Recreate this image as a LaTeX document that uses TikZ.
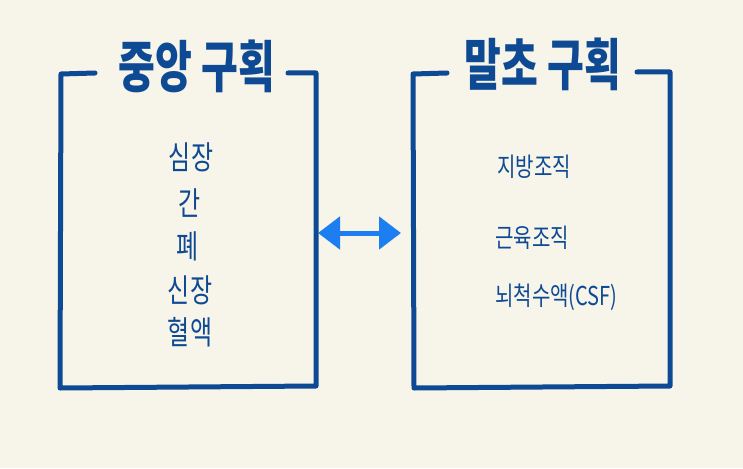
\documentclass[tikz,border=0pt]{standalone}
\usepackage{fontspec}
\setmainfont{Noto Sans CJK KR}
\usepackage{xcolor}
\usetikzlibrary{positioning, arrows.meta}
\definecolor{ink}{RGB}{14,74,148}
\definecolor{paper}{RGB}{247,244,233}
\definecolor{flow}{RGB}{28,126,240}
\newcommand{\tall}[2]{\scalebox{1}[#1]{#2}}

\begin{document}
\begin{tikzpicture}[
    x=1pt, y=-1pt,
    heading/.style={text=ink, inner sep=0pt, font=\fontsize{40}{44}\selectfont\bfseries},
    organ/.style={text=ink, inner sep=0pt, font=\fontsize{24}{28}\selectfont},
    tissue/.style={text=ink, inner sep=0pt, anchor=west, font=\fontsize{20}{24}\selectfont},
    frame/.style={draw=ink, line width=5pt, line cap=round, line join=round},
    exchange/.style={{Triangle[width=32pt,length=22pt]}-{Triangle[width=32pt,length=22pt]}, draw=flow, line width=5pt}
]
\fill[paper] (0,0) rectangle (743,468);
\useasboundingbox (0,0) rectangle (743,468);

\node[heading] (central) at (197,66) {\tall{1.4}{중앙 구획}};
\node[heading] (peripheral) at (543,64) {\tall{1.4}{말초 구획}};

\draw[frame] (95,73) -- (61,74) -- (60,388) -- (316,386) -- (316,73) -- (288,73);
\draw[frame] (447,73) -- (413,74) -- (414,388) -- (670,386) -- (670,72) -- (637,72);

\node[organ] (heart) at (191,157) {\tall{1.35}{심장}};
\node[organ] (liver) at (190,203) {\tall{1.35}{간}};
\node[organ] (lung) at (188,246) {\tall{1.35}{폐}};
\node[organ] (kidney) at (190,290) {\tall{1.35}{신장}};
\node[organ] (blood) at (190,332) {\tall{1.35}{혈액}};

\node[tissue] (fat) at (497,167) {\tall{1.3}{지방조직}};
\node[tissue] (muscle) at (495,238) {\tall{1.3}{근육조직}};
\node[tissue] (csf) at (495,297) {\tall{1.3}{뇌척수액(CSF)}};

\coordinate (inner) at (318,233);
\coordinate (outer) at (401,233);
\draw[exchange] (inner) -- (outer);

\end{tikzpicture}
\end{document}
